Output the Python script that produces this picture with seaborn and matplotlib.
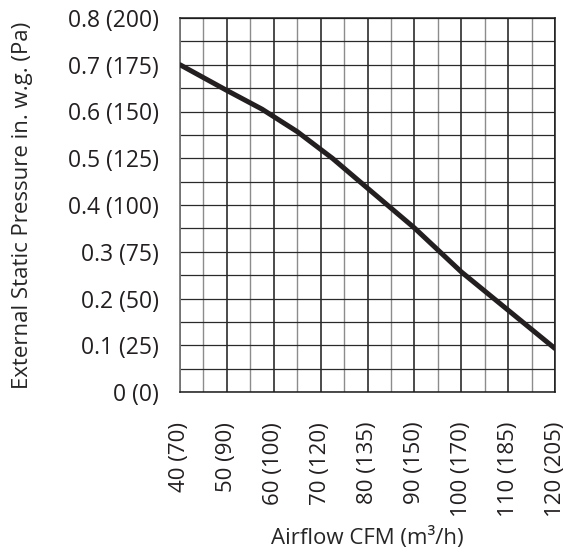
import matplotlib
matplotlib.use("Agg")
import matplotlib.pyplot as plt
import seaborn as sns
from matplotlib.ticker import MultipleLocator

# data
airflow = [40, 50, 57.5, 65, 72.5, 80, 90, 100, 110, 120]
pressure = [0.70, 0.645, 0.605, 0.557, 0.50, 0.436, 0.351, 0.257, 0.175, 0.093]

x_ticks = [40, 50, 60, 70, 80, 90, 100, 110, 120]
x_labels = ["40 (70)", "50 (90)", "60 (100)", "70 (120)", "80 (135)",
            "90 (150)", "100 (170)", "110 (185)", "120 (205)"]
y_ticks = [0, 0.1, 0.2, 0.3, 0.4, 0.5, 0.6, 0.7, 0.8]
y_labels = ["0 (0)", "0.1 (25)", "0.2 (50)", "0.3 (75)", "0.4 (100)",
            "0.5 (125)", "0.6 (150)", "0.7 (175)", "0.8 (200)"]

sns.set_style("white")
plt.rcParams["font.family"] = ["Open Sans", "DejaVu Sans"]
plt.rcParams["text.color"] = "#231f20"

fig = plt.figure(figsize=(5.64, 5.54), dpi=100)
ax = fig.add_axes([180 / 564, 1 - 392 / 554, 375 / 564, 374 / 554])

sns.lineplot(x=airflow, y=pressure, ax=ax, color="#231f20", linewidth=3.6,
             zorder=5)

ax.set_xlim(40, 120)
ax.set_ylim(0, 0.8)
ax.set_xticks(x_ticks)
ax.set_xticklabels(x_labels, rotation=90, fontsize=16, color="#231f20")
ax.set_yticks(y_ticks)
ax.set_yticklabels(y_labels, fontsize=16.5, color="#231f20")
ax.xaxis.set_minor_locator(MultipleLocator(5))
ax.yaxis.set_minor_locator(MultipleLocator(0.05))

#grid
ax.grid(which="major", axis="x", color="#1a1a1a", linewidth=1.1)
ax.grid(which="minor", axis="x", color="#8c8c8c", linewidth=1.0)
ax.grid(which="both", axis="y", color="#2a2a2a", linewidth=0.9)
ax.set_axisbelow(True)

ax.tick_params(axis="x", which="major", direction="out", length=7.5,
               width=1.1, color="#1a1a1a", pad=14)
ax.tick_params(axis="x", which="minor", direction="out", length=2.5,
               width=1.0, color="#8c8c8c")
ax.tick_params(axis="y", which="both", length=0, pad=15)

for side in ["top", "right", "bottom"]:
    ax.spines[side].set_color("#1a1a1a")
    ax.spines[side].set_linewidth(1.1)
ax.spines["left"].set_color("#777777")
ax.spines["left"].set_linewidth(1.3)

ax.set_xlabel("Airflow CFM (m³/h)", fontsize=16)
ax.set_ylabel("External Static Pressure in. w.g. (Pa)", fontsize=16)
ax.xaxis.set_label_coords(0.5, -0.362)
ax.yaxis.set_label_coords(-0.392, 0.5)

fig.savefig("out.png", dpi=100)
